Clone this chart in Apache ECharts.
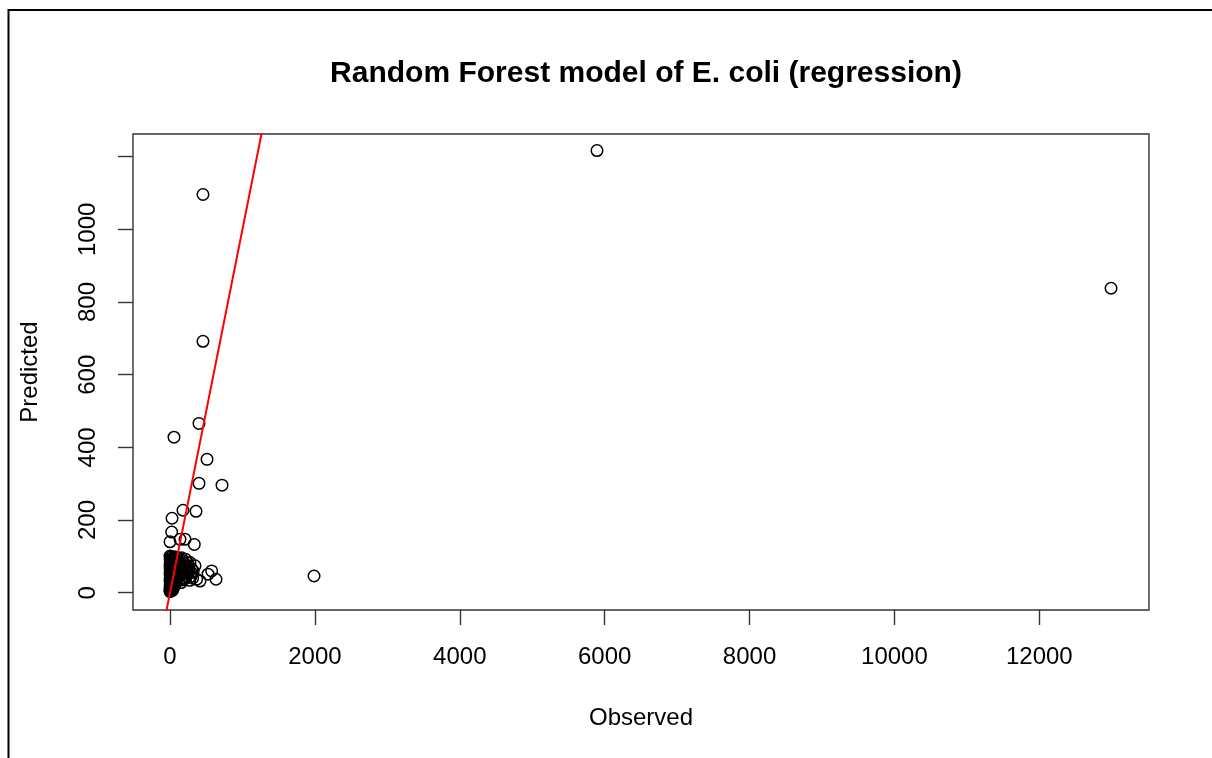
<!DOCTYPE html>
<html>
<head>
<meta charset="utf-8">
<title>Random Forest model of E. coli (regression)</title>
<script src="https://cdn.jsdelivr.net/npm/echarts@6/dist/echarts.min.js"></script>
<style>
  html, body { margin: 0; padding: 0; background: #ffffff; }
  #chart { width: 1212px; height: 758px; }
</style>
</head>
<body>
<div id="chart"></div>
<script>
// Observed vs predicted E. coli counts from the random forest regression
const observed = [
  5894, 12990, 455, 455, 400, 55, 511, 400, 718, 179, 359, 28, 1988,
  23, 0, 138, 207, 335, 276, 345, 414, 575, 635, 525, 300, 368,
  1, 3, 0, 6, 2, 9, 4, 11, 1, 7, 14, 3, 10, 17, 5, 0, 12, 20, 8, 2,
  15, 24, 6, 11, 1, 18, 26, 4, 13, 9, 21, 2, 16, 7, 28, 12, 0, 19, 5, 10,
  25, 3, 14, 8, 1, 20, 6, 0, 11, 17,
  34, 40, 48, 36, 57, 44, 66, 52, 75, 38, 84, 61, 47, 93, 70, 102, 55, 82,
  39, 113, 64, 95, 50, 124, 74, 107, 42, 88, 133, 58, 118, 72, 98, 142, 46,
  83, 126, 62, 104, 37, 90, 148, 68, 115, 52, 80, 130, 43, 95, 60,
  155, 168, 185, 202, 220, 162, 192, 238, 174, 210, 255, 183, 228, 265, 160,
  200, 246, 290, 272, 312, 296, 320, 178, 215, 160, 258
];
const predicted = [
  1217, 838, 1096, 692, 466, 428, 367, 301, 296, 227, 224, 205, 46,
  167, 140, 147, 147, 133, 83, 74, 32, 60, 37, 51, 65, 37,
  3, 5, 7, 9, 11, 13, 15, 17, 19, 21, 23, 25, 27, 29, 31, 33, 35, 37, 39, 41,
  43, 45, 47, 49, 51, 53, 55, 57, 59, 61, 63, 65, 67, 69, 71, 73, 75, 77, 79, 81,
  83, 85, 87, 90, 93, 95, 98, 101, 88, 92,
  6, 10, 13, 16, 18, 21, 23, 26, 27, 29, 31, 33, 36, 36, 39, 41, 43, 44,
  47, 47, 49, 51, 53, 54, 56, 58, 60, 62, 62, 65, 66, 68, 70, 70, 72,
  74, 76, 78, 80, 82, 83, 84, 86, 88, 90, 92, 94, 96, 97, 99,
  28, 35, 41, 38, 46, 50, 54, 52, 58, 62, 58, 67, 71, 66, 76,
  79, 82, 45, 34, 40, 55, 60, 88, 92, 96, 74
];

// Reference line y = x (clipped to the plotting region)
const refLine = [[-1000, -1000], [2000, 2000]];

// Axis ticks and labels
const xTicks = [0, 2000, 4000, 6000, 8000, 10000, 12000];
const yTicks = [0, 200, 400, 600, 800, 1000, 1200];
const yLabels = [0, 200, 400, 600, 800, 1000];

const points = observed.map((o, i) => [o, predicted[i]]);

const FONT = '"Liberation Sans", Arial, Helvetica, sans-serif';
const AXIS_COLOR = '#333333';
const plainNumber = v => String(v);

const chart = echarts.init(document.getElementById('chart'), null, { renderer: 'canvas' });

chart.setOption({
  animation: false,
  backgroundColor: '#ffffff',
  title: {
    text: 'Random Forest model of E. coli (regression)',
    left: 641,
    top: 54,
    textAlign: 'center',
    textStyle: { fontFamily: FONT, fontSize: 30, fontWeight: 'bold', color: '#000' }
  },
  graphic: [{
    type: 'rect',
    silent: true,
    shape: { x: 8.5, y: 10, width: 1400, height: 900 },
    style: { fill: 'none', stroke: '#000', lineWidth: 2 }
  }],
  grid: {
    left: 133, top: 134, width: 1016, height: 476,
    show: true, borderColor: AXIS_COLOR, borderWidth: 1.4, backgroundColor: 'transparent'
  },
  xAxis: {
    type: 'value',
    min: -511, max: 13514,
    name: 'Observed',
    nameLocation: 'middle',
    nameGap: 96,
    nameTextStyle: { fontFamily: FONT, fontSize: 24, color: '#000' },
    axisLine: { show: false, onZero: false },
    splitLine: { show: false },
    axisTick: { show: true, inside: false, length: 15, customValues: xTicks,
      lineStyle: { color: AXIS_COLOR, width: 1.4 } },
    axisLabel: { customValues: xTicks, margin: 35, formatter: plainNumber,
      fontFamily: FONT, fontSize: 24, color: '#000', showMinLabel: true, showMaxLabel: true }
  },
  yAxis: {
    type: 'value',
    min: -47.6, max: 1262.5,
    name: 'Predicted',
    nameLocation: 'middle',
    nameGap: 91,
    nameRotate: 90,
    nameTextStyle: { fontFamily: FONT, fontSize: 24, color: '#000' },
    axisLine: { show: false, onZero: false },
    splitLine: { show: false },
    axisTick: { show: true, inside: false, length: 15, customValues: yTicks,
      lineStyle: { color: AXIS_COLOR, width: 1.4 } },
    axisLabel: { customValues: yLabels, rotate: 90, margin: 33, formatter: plainNumber,
      fontFamily: FONT, fontSize: 24, color: '#000', showMinLabel: true, showMaxLabel: true }
  },
  series: [
    {
      type: 'scatter',
      data: points,
      symbol: 'circle',
      symbolSize: 11.5,
      silent: true,
      itemStyle: { color: 'rgba(0,0,0,0)', borderColor: '#000', borderWidth: 1.5, opacity: 1 }
    },
    {
      type: 'line',
      data: refLine,
      clip: true,
      symbol: 'none',
      silent: true,
      lineStyle: { color: '#ff0000', width: 2 },
      z: 3
    }
  ]
});
</script>
</body>
</html>
